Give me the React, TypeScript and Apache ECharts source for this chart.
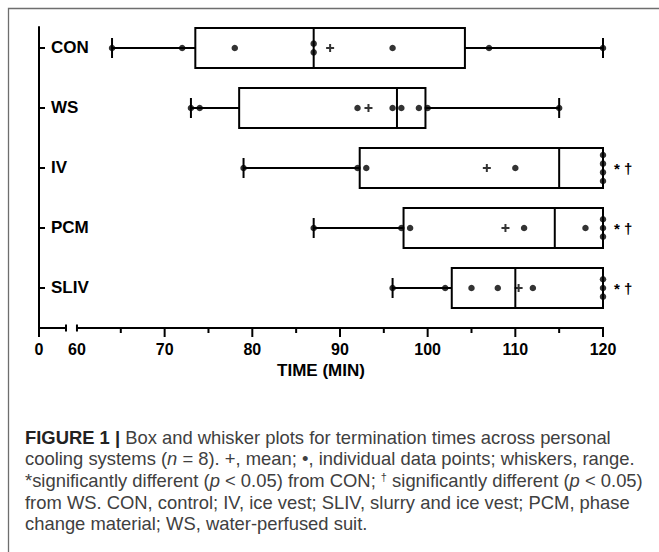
import React, { useEffect, useRef } from "react";
import * as echarts from "echarts";

// ---------- data ----------
const categories = ["CON", "WS", "IV", "PCM", "SLIV"];
const points = [
  [64, 72, 78, 87, 87, 96, 107, 120],
  [73, 74, 92, 96, 97, 99, 100, 115],
  [79, 92, 93, 110, 120, 120, 120, 120],
  [87, 97, 98, 111, 118, 120, 120, 120],
  [96, 102, 105, 108, 112, 120, 120, 120],
];
// min, Q1, median, Q3, max
const boxStats = [
  [64, 73.5, 87, 104.25, 120],
  [73, 78.5, 96.5, 99.75, 115],
  [79, 92.25, 115, 120, 120],
  [87, 97.25, 114.5, 120, 120],
  [96, 102.75, 110, 120, 120],
];
const means = [88.875, 93.25, 106.75, 108.875, 110.375];
const significance = ["", "", "* †", "* †", "* †"];
const xTickValues = [60, 70, 80, 90, 100, 110, 120];
const xMinorTicks = [65, 75, 85, 95, 105, 115];
const xBreakLabel = "0";
const xAxisName = "TIME (MIN)";
const captionLines = [
  "{b|FIGURE 1 |} Box and whisker plots for termination times across personal",
  "cooling systems ({i|n} = 8). +, mean; •, individual data points; whiskers, range.",
  "*significantly different ({i|p} < 0.05) from CON; {sup|†} significantly different ({i|p} < 0.05)",
  "from WS. CON, control; IV, ice vest; SLIV, slurry and ice vest; PCM, phase",
  "change material; WS, water-perfused suit.",
];

// axis geometry (broken axis: "0" placed before the break)
const X_MIN = 55.67;
const BREAK_END = 58.75;
const X_MAX = 120;
const Y_MIN = -0.35;
const Y_MAX = 4.667;

export default function App() {
  const ref = useRef<HTMLDivElement>(null);

  useEffect(() => {
    if (!ref.current) return;
    const chart = echarts.init(ref.current, null, { renderer: "svg" });

    // jitter duplicates vertically
    const scatterData: number[][] = [];
    points.forEach((vals, ci) => {
      const counts: Record<number, number> = {};
      vals.forEach((v) => (counts[v] = (counts[v] || 0) + 1));
      const seen: Record<number, number> = {};
      vals.forEach((v) => {
        const k = counts[v];
        const idx = seen[v] || 0;
        seen[v] = idx + 1;
        const off = (idx - (k - 1) / 2) * 0.145;
        scatterData.push([v, ci + off]);
      });
    });

    const boxData = boxStats.map((s, i) => [i, ...s]);
    const meanData = means.map((m, i) => [m, i]);

    const font = "Liberation Sans, Arial, sans-serif";
    const capColor = "#404040";
    const capSize = 18.4;

    const option: any = {
      animation: false,
      backgroundColor: "#fff",
      grid: { left: 39, right: 56, top: 27, bottom: 224, containLabel: false },
      xAxis: {
        type: "value",
        min: X_MIN,
        max: X_MAX,
        axisLine: { show: false, onZero: false },
        splitLine: { show: false },
        axisTick: { show: false },
        axisLabel: {
          customValues: [X_MIN, ...xTickValues],
          formatter: (v: number) => (v < BREAK_END ? xBreakLabel : String(Math.round(v))),
          color: "#000",
          fontWeight: "bold",
          fontSize: 16,
          fontFamily: font,
          margin: 13,
        },
        name: xAxisName,
        nameLocation: "middle",
        nameGap: 33,
        nameTextStyle: { color: "#000", fontWeight: "bold", fontSize: 17, fontFamily: font },
      },
      yAxis: {
        type: "value",
        min: Y_MIN,
        max: Y_MAX,
        inverse: true,
        splitLine: { show: false },
        axisLine: { show: true, onZero: false, lineStyle: { color: "#000", width: 2 } },
        axisTick: {
          show: true,
          inside: true,
          length: 6,
          customValues: [0, 1, 2, 3, 4],
          lineStyle: { color: "#000", width: 2 },
        },
        axisLabel: {
          inside: true,
          margin: 12,
          customValues: [0, 1, 2, 3, 4],
          formatter: (v: number) => categories[Math.round(v)] || "",
          color: "#000",
          fontWeight: "bold",
          fontSize: 17,
          fontFamily: font,
        },
      },
      graphic: [
        {
          type: "polyline",
          shape: { points: [[8.5, 600], [8.5, 8.5], [700, 8.5]] },
          style: { stroke: "#6e6e6e", lineWidth: 1.3, fill: "none" },
          silent: true,
        },
        ...captionLines.map((t, i) => ({
          type: "text",
          x: 25,
          y: 437 + i * 21.7,
          style: {
            text: t,
            fill: capColor,
            fontSize: capSize,
            fontFamily: font,
            verticalAlign: "middle",
            align: "left",
            rich: {
              b: { fontWeight: "bold", fontSize: capSize, fontFamily: font, fill: "#222" },
              i: { fontStyle: "italic", fontSize: capSize, fontFamily: font, fill: capColor },
              sup: { fontSize: 11, fontFamily: font, fill: capColor, verticalAlign: "top" },
            },
          },
          silent: true,
        })),
      ],
      series: [
        {
          type: "custom",
          name: "axis",
          silent: true,
          data: [[0]],
          renderItem: (params: any, api: any) => {
            const yb = api.coord([X_MIN, Y_MAX])[1];
            const p0 = api.coord([X_MIN, Y_MAX])[0];
            const p1 = api.coord([BREAK_END, Y_MAX])[0];
            const p2 = api.coord([xTickValues[0], Y_MAX])[0];
            const p3 = api.coord([X_MAX, Y_MAX])[0];
            const st = { stroke: "#000", lineWidth: 2 };
            const children: any[] = [
              { type: "line", shape: { x1: p0 - 1, y1: yb, x2: p1, y2: yb }, style: st },
              { type: "line", shape: { x1: p1, y1: yb - 3.5, x2: p1, y2: yb + 3.5 }, style: st },
              { type: "line", shape: { x1: p2, y1: yb, x2: p3 + 1, y2: yb }, style: st },
              { type: "line", shape: { x1: p2, y1: yb - 3.5, x2: p2, y2: yb + 3.5 }, style: st },
              { type: "line", shape: { x1: p0, y1: yb, x2: p0, y2: yb + 9 }, style: st },
            ];
            xTickValues.slice(1).forEach((v) => {
              const x = api.coord([v, Y_MAX])[0];
              children.push({ type: "line", shape: { x1: x, y1: yb, x2: x, y2: yb + 9 }, style: st });
            });
            xMinorTicks.forEach((v) => {
              const x = api.coord([v, Y_MAX])[0];
              children.push({ type: "line", shape: { x1: x, y1: yb, x2: x, y2: yb + 5 }, style: st });
            });
            return { type: "group", children };
          },
          z: 1,
        },
        {
          type: "custom",
          name: "box",
          silent: true,
          encode: { x: [1, 2, 3, 4, 5], y: 0 },
          data: boxData,
          renderItem: (params: any, api: any) => {
            const i = api.value(0);
            const yc = api.coord([X_MAX, i])[1];
            const xs = [1, 2, 3, 4, 5].map((d) => api.coord([api.value(d), i])[0]);
            const [xMin, xQ1, xMed, xQ3, xMax] = xs;
            const h = 40;
            const st = { stroke: "#000", lineWidth: 2, fill: "none" };
            const children: any[] = [
              { type: "line", shape: { x1: xMin, y1: yc, x2: xQ1, y2: yc }, style: st },
              { type: "line", shape: { x1: xQ3, y1: yc, x2: xMax, y2: yc }, style: st },
              { type: "line", shape: { x1: xMin, y1: yc - 10, x2: xMin, y2: yc + 10 }, style: st },
              { type: "line", shape: { x1: xMax, y1: yc - 10, x2: xMax, y2: yc + 10 }, style: st },
              { type: "rect", shape: { x: xQ1, y: yc - h / 2, width: xQ3 - xQ1, height: h }, style: { stroke: "#000", lineWidth: 2, fill: "#fff" } },
              { type: "line", shape: { x1: xMed, y1: yc - h / 2, x2: xMed, y2: yc + h / 2 }, style: st },
            ];
            const sig = significance[i];
            if (sig) {
              children.push({
                type: "text",
                x: xMax + 11,
                y: yc + 1,
                style: {
                  text: sig,
                  fill: "#000",
                  fontSize: 15,
                  fontWeight: "bold",
                  fontFamily: font,
                  verticalAlign: "middle",
                  align: "left",
                },
              });
            }
            return { type: "group", children };
          },
          z: 2,
        },
        {
          type: "scatter",
          name: "points",
          silent: true,
          data: scatterData,
          symbol: "circle",
          symbolSize: 6.5,
          itemStyle: { color: "#000" },
          z: 3,
        },
        {
          type: "scatter",
          name: "mean",
          silent: true,
          data: meanData,
          symbol: "path://M3,0h2v3h3v2h-3v3h-2v-3h-3v-2h3z",
          symbolSize: 8,
          itemStyle: { color: "#000" },
          z: 3,
        },
      ],
    };

    chart.setOption(option);
    return () => chart.dispose();
  }, []);

  return (
    <div
      ref={ref}
      style={{ position: "absolute", left: 0, top: 0, width: 659, height: 552, background: "#fff" }}
    />
  );
}
